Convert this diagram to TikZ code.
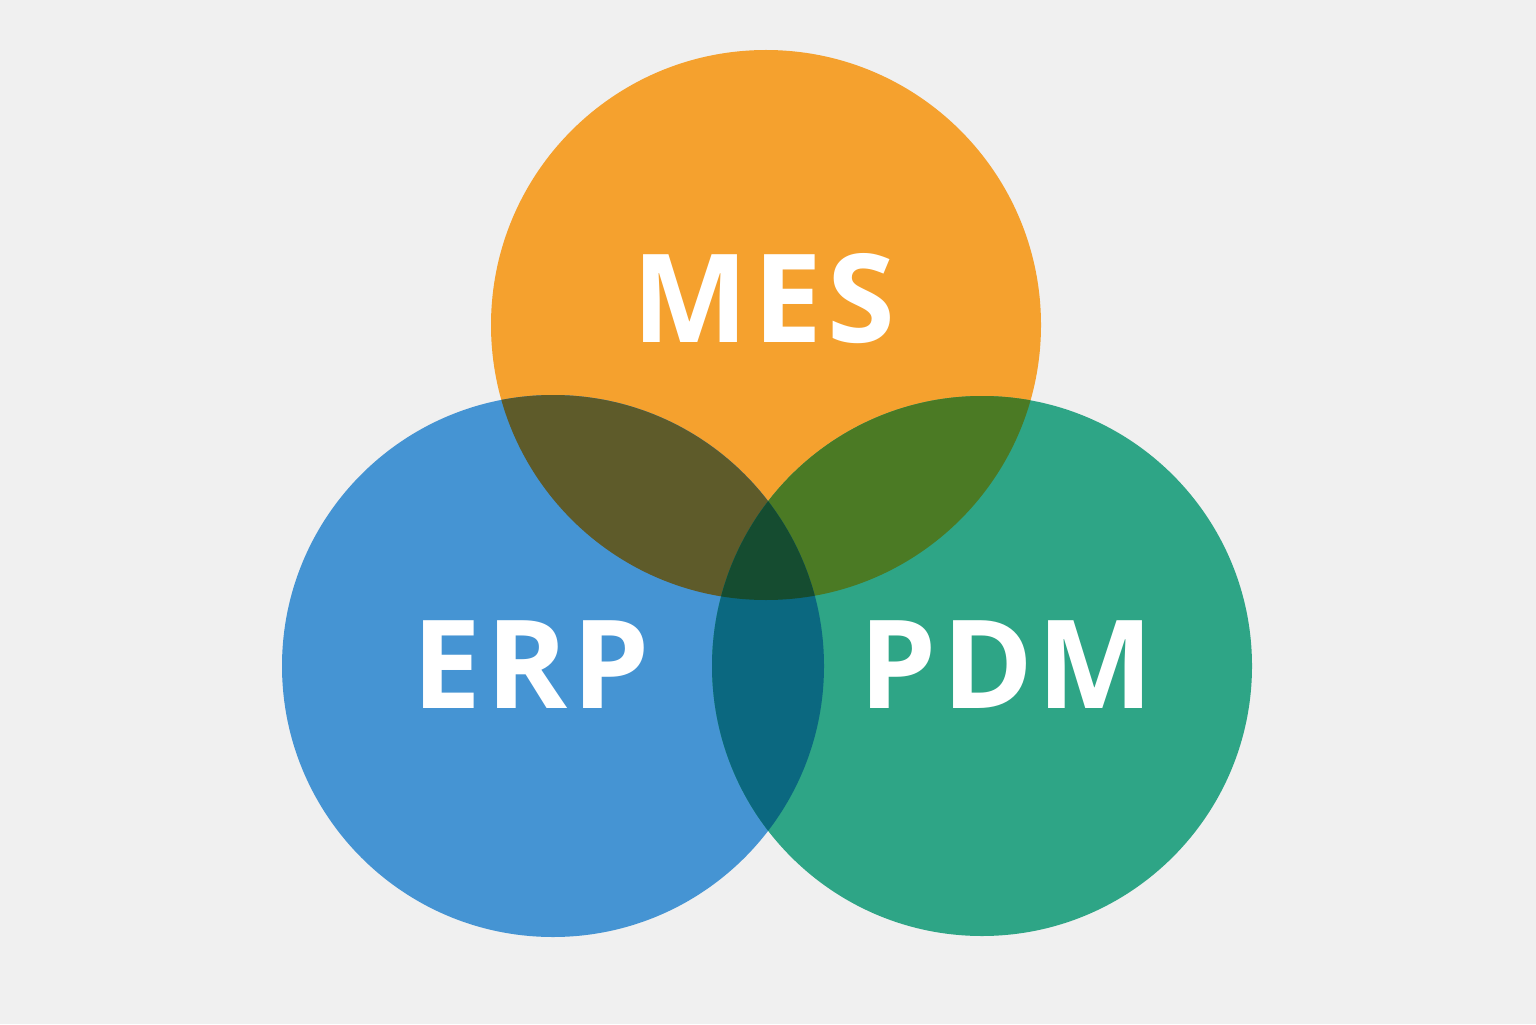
\documentclass[tikz,border=0pt]{standalone}
\usepackage{fontspec}
\setmainfont{Open Sans}
\newfontfamily\lblfont[LetterSpace=4]{Open Sans}
\definecolor{bg}{HTML}{F0F0F0}
\definecolor{mesc}{HTML}{F5A12E}
\definecolor{erpc}{HTML}{4594D3}
\definecolor{pdmc}{HTML}{2EA586}
\definecolor{mecol}{HTML}{5E5B2A}
\definecolor{mpcol}{HTML}{4B7A24}
\definecolor{epcol}{HTML}{0B6880}
\definecolor{allcol}{HTML}{154C30}
\tikzset{lbl/.style={text=white,font=\lblfont\fontsize{35}{40}\selectfont\bfseries,inner sep=0pt}}
\begin{document}
\begin{tikzpicture}
\fill[bg] (0,0) rectangle (15.36,10.24);
\useasboundingbox (0,0) rectangle (15.36,10.24);
\def\mes{(7.66,6.99) circle (2.75)}
\def\erp{(5.53,3.58) circle (2.71)}
\def\pdm{(9.82,3.58) circle (2.70)}
\fill[mesc] \mes;
\fill[erpc] \erp;
\fill[pdmc] \pdm;
\begin{scope}\clip \mes; \fill[mecol] \erp; \end{scope}
\begin{scope}\clip \mes; \fill[mpcol] \pdm; \end{scope}
\begin{scope}\clip \erp; \fill[epcol] \pdm; \end{scope}
\begin{scope}\clip \mes; \clip \erp; \fill[allcol] \pdm; \end{scope}
\node[lbl] (mes) at (7.64,7.25) {MES};
\node[lbl] (erp) at (5.31,3.59) {ERP};
\node[lbl] (pdm) at (10.07,3.59) {PDM};
\end{tikzpicture}
\end{document}
